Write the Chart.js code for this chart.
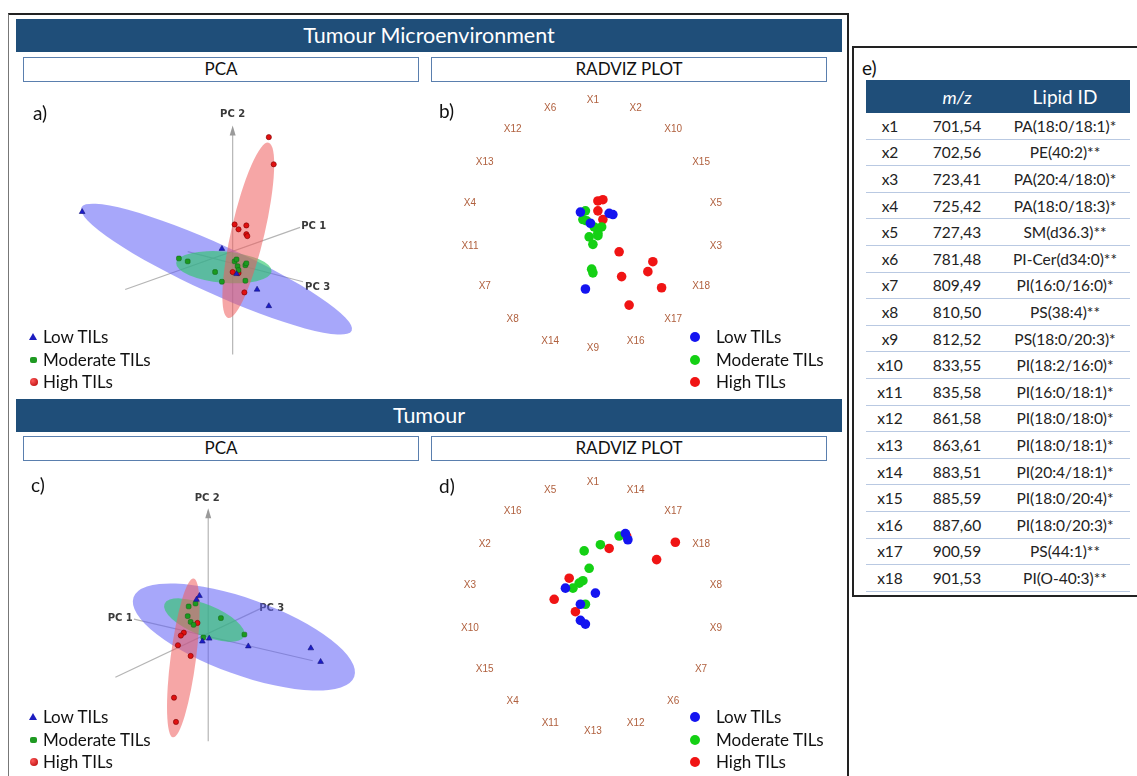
<!DOCTYPE html>
<html lang="en">
<head>
<meta charset="UTF-8">
<title>Tumour Microenvironment / Tumour - PCA and RadViz</title>
<script src="https://cdn.jsdelivr.net/npm/chart.js"></script>
<style>
    body { margin: 0; background: #fff; font-family: Lato, "Open Sans", sans-serif; color: #111; }
    #page { position: relative; width: 1137px; height: 776px; overflow: hidden; }
    .abs { position: absolute; }
    .frame { left: 8px; top: 13px; width: 838px; height: 800px; border-top: 2px solid #222; border-right: 2px solid #222; border-left: 1px solid #777; }
    .banner { left: 16px; width: 826px; height: 33px; background: #1f4e79; color: #fff; font-size: 21.5px; line-height: 33px; text-align: center; }
    .sub { box-sizing: border-box; height: 25px; border: 1.5px solid #5a7fae; font-size: 17px; line-height: 22px; text-align: center; background: #fff; }
    .tag { font-size: 19px; line-height: 22px; }
    .leg { font-size: 17px; line-height: 22px; white-space: nowrap; }
    .leg .row { position: relative; height: 22.5px; padding-left: 13px; }
    .leg i { position: absolute; left: 0; top: 7px; display: block; }
    .tri { width: 0; height: 0; border-left: 4px solid transparent; border-right: 4px solid transparent; border-bottom: 7px solid #1c1cc0; top: 7px !important; left: -1px !important; }
    .sq { width: 7px; height: 6px; border-radius: 2px; background: #1f9a22; top: 8px !important; }
    .ball { width: 8px; height: 8px; border-radius: 50%; background: radial-gradient(circle at 35% 35%, #ff5a5a, #b00000); }
    .dot { width: 10px; height: 10px; border-radius: 50%; top: 6px !important; left: -13px !important; }
    .tbox { left: 852px; top: 46px; width: 300px; height: 551px; border: 2px solid #222; box-sizing: border-box; }
    #tbl { left: 866px; top: 80px; width: 264px; font-size: 15.5px; color: #222; }
    #tbl .head { height: 33px; background: #1f4e79; color: #fff; display: flex; align-items: center; }
    #tbl .r { display: flex; align-items: center; height: 26.6px; box-sizing: border-box; border-bottom: 1.5px solid #b9c9e2; }
    #tbl span { display: block; text-align: center; }
    .c1 { width: 48px; } .c2 { width: 86px; } .c3 { width: 130px; }
</style>
</head>
<body>
<div id="page">
    <div class="abs frame"></div>

    <div class="abs banner" style="top:19px">Tumour Microenvironment</div>
    <div class="abs sub" style="left:23px;top:57px;width:396px">PCA</div>
    <div class="abs sub" style="left:431px;top:57px;width:396px">RADVIZ PLOT</div>

    <div class="abs banner" style="top:399px">Tumour</div>
    <div class="abs sub" style="left:23px;top:436px;width:396px">PCA</div>
    <div class="abs sub" style="left:431px;top:436px;width:396px">RADVIZ PLOT</div>

    <canvas id="pcaA" class="abs" width="404" height="312" style="left:16px;top:84px"></canvas>
    <canvas id="radB" class="abs" width="396" height="312" style="left:431px;top:84px"></canvas>
    <canvas id="pcaC" class="abs" width="404" height="310" style="left:16px;top:466px"></canvas>
    <canvas id="radD" class="abs" width="396" height="310" style="left:431px;top:466px"></canvas>

    <div class="abs tag" style="left:33px;top:102px">a)</div>
    <div class="abs tag" style="left:439px;top:100px">b)</div>
    <div class="abs tag" style="left:31px;top:474px">c)</div>
    <div class="abs tag" style="left:439px;top:475px">d)</div>

    <div class="abs leg" style="left:30px;top:326px">
        <div class="row"><i class="tri"></i>Low TILs</div>
        <div class="row"><i class="sq"></i>Moderate TILs</div>
        <div class="row"><i class="ball"></i>High TILs</div>
    </div>
    <div class="abs leg" style="left:30px;top:706px">
        <div class="row"><i class="tri"></i>Low TILs</div>
        <div class="row"><i class="sq"></i>Moderate TILs</div>
        <div class="row"><i class="ball"></i>High TILs</div>
    </div>
    <div class="abs leg" style="left:703px;top:326px">
        <div class="row"><i class="dot" style="background:#1414f0"></i>Low TILs</div>
        <div class="row"><i class="dot" style="background:#14d014"></i>Moderate TILs</div>
        <div class="row"><i class="dot" style="background:#f01414"></i>High TILs</div>
    </div>
    <div class="abs leg" style="left:703px;top:706px">
        <div class="row"><i class="dot" style="background:#1414f0"></i>Low TILs</div>
        <div class="row"><i class="dot" style="background:#14d014"></i>Moderate TILs</div>
        <div class="row"><i class="dot" style="background:#f01414"></i>High TILs</div>
    </div>

    <div class="abs tbox"></div>
    <div class="abs tag" style="left:862px;top:57px">e)</div>
    <div id="tbl" class="abs">
        <div class="head">
            <span class="c1"></span>
            <span class="c2" style="font-style:italic;font-size:18px">m/z</span>
            <span class="c3" style="font-size:19px">Lipid ID</span>
        </div>
        <div id="rows"></div>
    </div>
</div>

<script>
    // ---- e) lipid table ----
    const lipidKeys = ['x1','x2','x3','x4','x5','x6','x7','x8','x9','x10','x11','x12','x13','x14','x15','x16','x17','x18'];
    const lipidMz = ['701,54','702,56','723,41','725,42','727,43','781,48','809,49','810,50','812,52',
                     '833,55','835,58','861,58','863,61','883,51','885,59','887,60','900,59','901,53'];
    const lipidIds = ['PA(18:0/18:1)*','PE(40:2)**','PA(20:4/18:0)*','PA(18:0/18:3)*','SM(d36.3)**','PI-Cer(d34:0)**',
                      'PI(16:0/16:0)*','PS(38:4)**','PS(18:0/20:3)*','PI(18:2/16:0)*','PI(16:0/18:1)*','PI(18:0/18:0)*',
                      'PI(18:0/18:1)*','PI(20:4/18:1)*','PI(18:0/20:4)*','PI(18:0/20:3)*','PS(44:1)**','PI(O-40:3)**'];

    // ---- a) PCA, tumour microenvironment (projected scores) ----
    const aLow = [[-1.54,0.51],[-0.11,0.13],[0.25,-0.29],[0.37,-0.46],[0.04,-0.13]];
    const aModerate = [[-0.55,0.03],[-0.46,0.00],[-0.18,-0.11],[-0.11,-0.21],[0.02,0.00],[0.04,0.02],
                       [0.05,-0.05],[0.06,-0.09],[0.13,-0.04],[0.14,-0.02],[0.13,-0.20]];
    const aHigh = [[0.37,1.28],[0.42,1.00],[0.02,0.38],[0.06,0.33],[0.14,0.37],[0.14,0.28],
                   [0.15,0.26],[0.00,-0.11],[0.06,-0.12],[0.12,-0.32]];
    // confidence ellipses: centre x, centre y, semi-axis a, semi-axis b, rotation (deg)
    const aLowEllipse = [-0.165, -0.08, 1.52, 0.25, 24.5];
    const aModerateEllipse = [-0.09, -0.06, 0.49, 0.16, 5];
    const aHighEllipse = [0.16, 0.32, 0.92, 0.17, -77];
    // axis segments: from x, from y, to x, to y, label x, label y
    const aPC1 = [-1.10, -0.29, 0.69, 0.35, 0.83, 0.36];
    const aPC2 = [0, -0.96, 0, 1.37, 0, 1.51];
    const aPC3 = [-0.46, 0.10, 0.72, -0.21, 0.87, -0.27];

    // ---- c) PCA, tumour ----
    const cLow = [[-0.09,0.41],[-0.12,0.37],[0.01,-0.03],[-0.06,-0.06],[0.41,-0.11],[1.05,-0.13],[1.15,-0.27]];
    const cModerate = [[-0.20,0.30],[-0.13,0.33],[-0.21,0.20],[-0.18,0.14],[-0.15,0.11],[0.13,0.18],[0.37,0.01],[-0.05,-0.02]];
    const cHigh = [[-0.11,0.13],[-0.25,0.03],[-0.28,0.00],[-0.31,-0.10],[-0.18,-0.21],[-0.35,-0.64],[-0.33,-0.89]];
    const cLowEllipse = [0.365, -0.015, 1.20, 0.39, 19.8];
    const cModerateEllipse = [-0.04, 0.16, 0.44, 0.16, 22];
    const cHighEllipse = [-0.255, -0.23, 0.82, 0.13, -82.6];
    const cPC1 = [-0.76, 0.17, 1.07, -0.26, -0.90, 0.18];
    const cPC2 = [0, -1.09, 0, 1.28, -0.01, 1.41];
    const cPC3 = [-0.95, -0.43, 0.54, 0.28, 0.65, 0.28];

    // ---- b) RadViz, tumour microenvironment ----
    const bAnchors = ['X1','X2','X10','X15','X5','X3','X18','X17','X16','X9','X14','X8','X7','X11','X4','X13','X12','X6'];
    const bLow = [[-0.10,0.10],[0.13,0.09],[0.16,0.08],[-0.02,0.01],[-0.06,-0.52]];
    const bModerate = [[-0.06,0.11],[-0.08,0.04],[-0.05,0.03],[0.01,-0.02],[0.07,-0.02],[0.04,-0.07],
                       [0.04,-0.09],[-0.03,-0.10],[0.00,-0.16],[-0.01,-0.36],[0.00,-0.39]];
    const bHigh = [[0.04,0.19],[0.08,0.20],[0.04,0.11],[0.08,0.04],[0.21,-0.22],[0.48,-0.30],
                   [0.44,-0.38],[0.23,-0.42],[0.55,-0.51],[0.29,-0.65]];

    // ---- d) RadViz, tumour ----
    const dAnchors = ['X1','X14','X17','X18','X8','X9','X7','X6','X12','X13','X11','X4','X15','X10','X3','X2','X16','X5'];
    const dLow = [[0.26,0.59],[0.28,0.54],[-0.22,0.15],[0.02,0.11],[-0.10,0.02],[-0.10,-0.11],[-0.06,-0.14]];
    const dModerate = [[0.21,0.57],[0.06,0.50],[-0.07,0.45],[-0.03,0.31],[-0.08,0.21],[-0.11,0.19],[-0.16,0.15],[-0.06,0.02]];
    const dHigh = [[0.27,0.57],[0.13,0.47],[0.66,0.52],[0.51,0.38],[-0.19,0.23],[-0.31,0.06],[-0.14,-0.04]];

    // build table rows
    const rowsEl = document.getElementById('rows');
    lipidKeys.forEach((k, i) => {
        const r = document.createElement('div');
        r.className = 'r';
        r.innerHTML = `<span class="c1">${k}</span><span class="c2">${lipidMz[i]}</span><span class="c3">${lipidIds[i]}</span>`;
        rowsEl.appendChild(r);
    });

    const toXY = arr => arr.map(p => ({ x: p[0], y: p[1] }));

    // draws the PC axes and the group ellipses underneath the points
    const pcaDecor = {
        id: 'pcaDecor',
        beforeDatasetsDraw(chart, args, opts) {
            const { ctx, scales: { x, y } } = chart;
            const unit = x.getPixelForValue(1) - x.getPixelForValue(0);
            ctx.save();
            opts.axes.forEach(a => {
                const x1 = x.getPixelForValue(a.seg[0]), y1 = y.getPixelForValue(a.seg[1]);
                const x2 = x.getPixelForValue(a.seg[2]), y2 = y.getPixelForValue(a.seg[3]);
                ctx.strokeStyle = '#b5b5b5';
                ctx.lineWidth = 1.2;
                ctx.beginPath();
                ctx.moveTo(x1, y1);
                ctx.lineTo(x2, y2);
                ctx.stroke();
                if (a.arrow) {
                    ctx.fillStyle = '#9a9a9a';
                    ctx.beginPath();
                    ctx.moveTo(x2, y2 - 3);
                    ctx.lineTo(x2 - 3, y2 + 7);
                    ctx.lineTo(x2 + 3, y2 + 7);
                    ctx.closePath();
                    ctx.fill();
                }
                ctx.fillStyle = '#3a3a3a';
                ctx.font = 'bold 10px "DejaVu Sans", sans-serif';
                ctx.textAlign = 'center';
                ctx.textBaseline = 'middle';
                ctx.fillText(a.label, x.getPixelForValue(a.seg[4]), y.getPixelForValue(a.seg[5]));
            });
            opts.ellipses.forEach(e => {
                const p = e.p;
                ctx.fillStyle = e.color;
                ctx.beginPath();
                ctx.ellipse(x.getPixelForValue(p[0]), y.getPixelForValue(p[1]), p[2] * unit, p[3] * unit,
                            p[4] * Math.PI / 180, 0, Math.PI * 2);
                ctx.fill();
            });
            ctx.restore();
        }
    };

    // draws the RadViz anchor names round the unit circle
    const radAnchors = {
        id: 'radAnchors',
        beforeDatasetsDraw(chart, args, opts) {
            const { ctx, scales: { x, y } } = chart;
            const n = opts.names.length;
            ctx.save();
            ctx.fillStyle = '#b0603e';
            ctx.font = '10px "Liberation Sans", Arial, sans-serif';
            ctx.textAlign = 'center';
            ctx.textBaseline = 'middle';
            opts.names.forEach((name, i) => {
                const t = i * 2 * Math.PI / n;
                ctx.fillText(name, x.getPixelForValue(Math.sin(t)), y.getPixelForValue(Math.cos(t)));
            });
            ctx.restore();
        }
    };

    function baseOptions(xr, yr) {
        return {
            responsive: false,
            animation: false,
            events: [],
            layout: { padding: 0 },
            plugins: { legend: { display: false }, tooltip: { enabled: false } },
            scales: {
                x: { type: 'linear', display: false, min: xr[0], max: xr[1] },
                y: { type: 'linear', display: false, min: yr[0], max: yr[1] }
            }
        };
    }

    function pcaChart(id, low, mod, high, ellipses, axes, xr, yr) {
        const opts = baseOptions(xr, yr);
        opts.plugins.pcaDecor = { ellipses, axes };
        return new Chart(document.getElementById(id), {
            type: 'scatter',
            data: {
                datasets: [
                    { label: 'Low TILs', data: toXY(low), pointStyle: 'triangle', pointRadius: 3.3,
                      backgroundColor: '#1c1cc8', borderColor: '#12127a', borderWidth: 0.6, clip: false },
                    { label: 'Moderate TILs', data: toXY(mod), pointStyle: 'rectRounded', pointRadius: 2.8,
                      backgroundColor: '#1b9a1f', borderColor: '#0e5e10', borderWidth: 0.5, clip: false },
                    { label: 'High TILs', data: toXY(high), pointStyle: 'circle', pointRadius: 2.6,
                      backgroundColor: '#e01010', borderColor: '#7a0000', borderWidth: 0.6, clip: false }
                ]
            },
            options: opts,
            plugins: [pcaDecor]
        });
    }

    function radvizChart(id, names, low, mod, high, xr, yr) {
        const opts = baseOptions(xr, yr);
        opts.plugins.radAnchors = { names };
        return new Chart(document.getElementById(id), {
            type: 'scatter',
            data: {
                datasets: [
                    { label: 'Low TILs', data: toXY(low), pointRadius: 4.8, borderWidth: 0, backgroundColor: '#1414f0', clip: false },
                    { label: 'Moderate TILs', data: toXY(mod), pointRadius: 4.8, borderWidth: 0, backgroundColor: '#14d014', clip: false },
                    { label: 'High TILs', data: toXY(high), pointRadius: 4.8, borderWidth: 0, backgroundColor: '#f01414', clip: false }
                ]
            },
            options: opts,
            plugins: [radAnchors]
        });
    }

    const lowFill = 'rgba(95, 95, 245, 0.55)';
    const modFill = 'rgba(45, 200, 105, 0.62)';
    const highFill = 'rgba(238, 92, 92, 0.55)';

    pcaChart('pcaA', aLow, aModerate, aHigh,
        [{ p: aLowEllipse, color: lowFill }, { p: aModerateEllipse, color: modFill }, { p: aHighEllipse, color: highFill }],
        [{ seg: aPC1, label: 'PC 1' }, { seg: aPC2, label: 'PC 2', arrow: true }, { seg: aPC3, label: 'PC 3' }],
        [-2.17, 1.87], [-1.34, 1.78]);

    pcaChart('pcaC', cLow, cModerate, cHigh,
        [{ p: cLowEllipse, color: lowFill }, { p: cModerateEllipse, color: modFill }, { p: cHighEllipse, color: highFill }],
        [{ seg: cPC1, label: 'PC 1' }, { seg: cPC2, label: 'PC 2', arrow: true }, { seg: cPC3, label: 'PC 3' }],
        [-1.92, 2.12], [-1.40, 1.70]);

    radvizChart('radB', bAnchors, bLow, bModerate, bHigh, [-1.258, 1.836], [-1.344, 1.094]);
    radvizChart('radD', dAnchors, dLow, dModerate, dHigh, [-1.258, 1.836], [-1.326, 1.096]);
</script>
</body>
</html>
